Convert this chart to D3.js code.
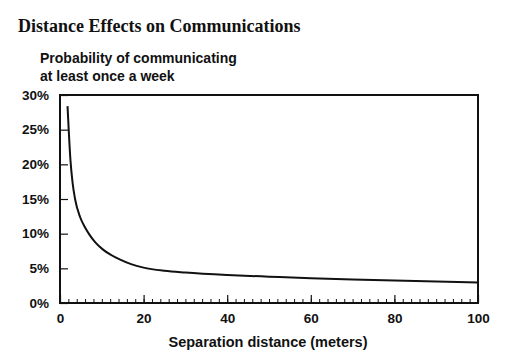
<!DOCTYPE html>
<html>
<head>
<meta charset="utf-8">
<script src="https://cdn.jsdelivr.net/npm/d3@7"></script>
<style>
  body { margin: 0; background: #fff; }
  text { fill: #111; }
</style>
</head>
<body>
<svg id="chart"></svg>
<script>
// distance in meters, probability in percent
let distance = [1.8, 2.1, 2.5, 3, 3.6, 4.8, 6, 7, 8.5, 10.3, 12, 14.4, 17, 20, 25, 30, 40, 50, 60, 70, 80, 90, 100];
let probability = [28.4, 24.8, 20.6, 17.4, 15.0, 12.4, 10.9, 9.9, 8.7, 7.7, 7.0, 6.25, 5.6, 5.1, 4.65, 4.4, 4.05, 3.8, 3.57, 3.4, 3.25, 3.1, 2.95];
let xTicks = [0, 20, 40, 60, 80, 100];
let yTicks = [0, 5, 10, 15, 20, 25, 30];

let w = 523;
let h = 361;
let padL = 60, padR = 478, padT = 95, padB = 303;

let svg = d3.select('#chart').attr('width', w).attr('height', h);

let xSc = d3.scaleLinear().domain([0, 100]).range([padL, padR]);
let ySc = d3.scaleLinear().domain([0, 30]).range([padB, padT]);

// title
svg.append('text')
   .attr('x', 18).attr('y', 32)
   .style('font-family', '"Liberation Serif", "Times New Roman", serif')
   .style('font-weight', 'bold')
   .style('font-size', '18px')
   .text('Distance Effects on Communications');

// y label, two lines
svg.append('text')
   .attr('x', 40).attr('y', 63)
   .style('font-family', '"Liberation Sans", Arial, sans-serif')
   .style('font-weight', 'bold')
   .style('font-size', '14px')
   .selectAll('tspan')
   .data(['Probability of communicating', 'at least once a week'])
   .enter()
   .append('tspan')
   .attr('x', 40)
   .attr('dy', (d, i) => i ? 18 : 0)
   .text(d => d);

// minor x ticks every 2 m
let xAxisMinor = d3.axisTop(xSc).tickValues(d3.range(0, 101, 2)).tickSize(4).tickFormat('');
svg.append('g')
   .attr('transform', 'translate(0,' + padB + ')')
   .call(xAxisMinor)
   .call(g => g.select('.domain').remove())
   .call(g => g.selectAll('line').attr('stroke', '#111').attr('stroke-width', 1));

// major x ticks + labels
let xAxis = d3.axisBottom(xSc).tickValues(xTicks).tickSize(0).tickPadding(10);
let gx = svg.append('g')
   .attr('transform', 'translate(0,' + padB + ')')
   .call(xAxis);
gx.select('.domain').remove();
gx.selectAll('text')
  .style('font-family', '"Liberation Sans", Arial, sans-serif')
  .style('font-weight', 'bold')
  .style('font-size', '13.5px')
  .attr('fill', '#111');
svg.append('g')
   .attr('transform', 'translate(0,' + padB + ')')
   .call(d3.axisTop(xSc).tickValues(xTicks).tickSize(8).tickFormat(''))
   .call(g => g.select('.domain').remove())
   .call(g => g.selectAll('line').attr('stroke', '#111').attr('stroke-width', 1.2));

// y axis: ticks pointing in
let yAxis = d3.axisRight(ySc).tickValues(yTicks).tickSize(8).tickFormat('');
svg.append('g')
   .attr('transform', 'translate(' + padL + ',0)')
   .call(yAxis)
   .call(g => g.select('.domain').remove())
   .call(g => g.selectAll('line').attr('stroke', '#111').attr('stroke-width', 1.2));
let gy = svg.append('g')
   .attr('transform', 'translate(' + padL + ',0)')
   .call(d3.axisLeft(ySc).tickValues(yTicks).tickSize(0).tickPadding(11).tickFormat(d => d + '%'));
gy.select('.domain').remove();
gy.selectAll('text')
  .style('font-family', '"Liberation Sans", Arial, sans-serif')
  .style('font-weight', 'bold')
  .style('font-size', '13.5px')
  .attr('fill', '#111');

// frame
svg.append('rect')
   .attr('x', padL).attr('y', padT)
   .attr('width', padR - padL).attr('height', padB - padT)
   .attr('fill', 'none')
   .attr('stroke', '#111')
   .attr('stroke-width', 2);

// curve
let pts = distance.map((d, i) => [d, probability[i]]);
let line = d3.line()
  .x(d => xSc(d[0]))
  .y(d => ySc(d[1]))
  .curve(d3.curveMonotoneX);
svg.append('path')
   .datum(pts)
   .attr('d', line)
   .attr('fill', 'none')
   .attr('stroke', '#111')
   .attr('stroke-width', 2);

// x label
svg.append('text')
   .attr('x', 268).attr('y', 347)
   .attr('text-anchor', 'middle')
   .style('font-family', '"Liberation Sans", Arial, sans-serif')
   .style('font-weight', 'bold')
   .style('font-size', '14.5px')
   .text('Separation distance (meters)');
</script>
</body>
</html>
